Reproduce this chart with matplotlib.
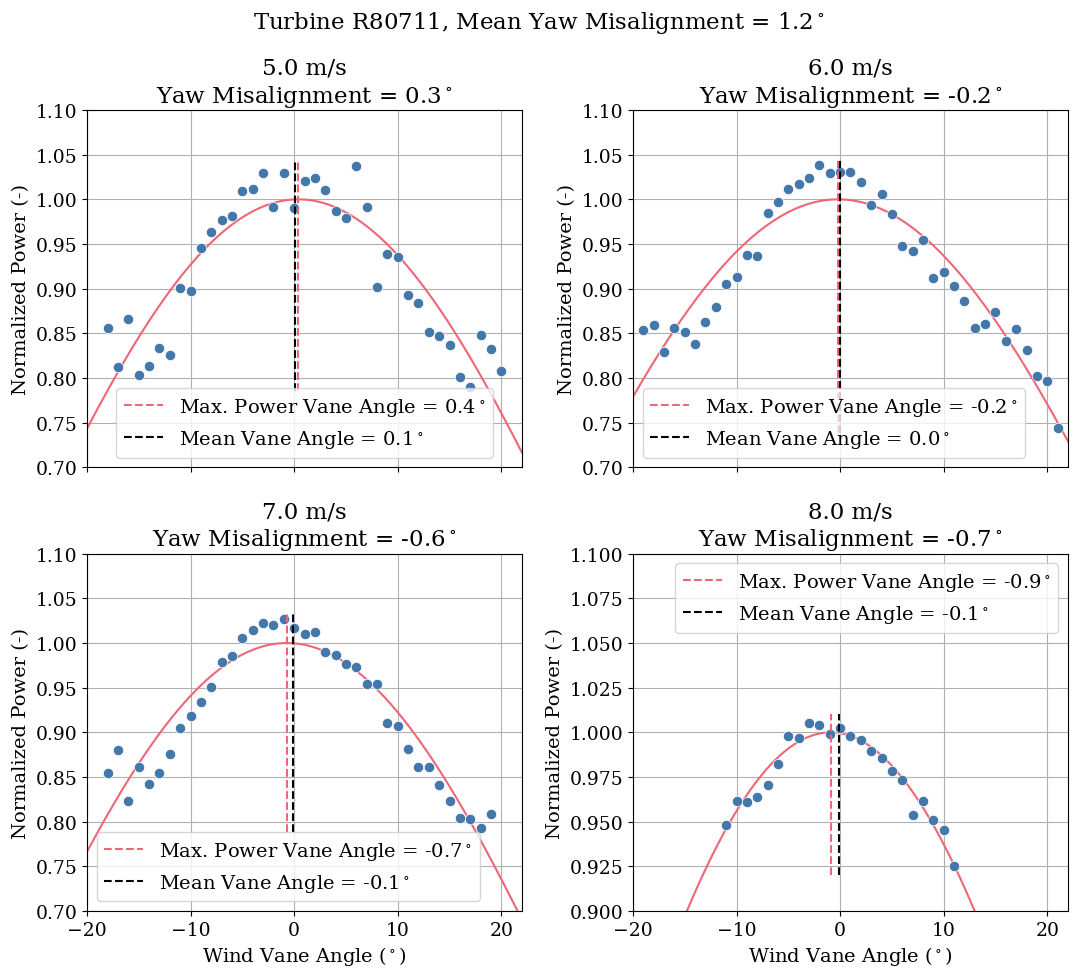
import numpy as np
import matplotlib
matplotlib.use("Agg")
import matplotlib.pyplot as plt

plt.rcParams["font.family"] = ["DejaVu Serif"]
plt.rcParams["mathtext.fontset"] = "dejavuserif"

BLUE = "#4477AA"
RED = "#EE6677"

# ── data ──────────────────────────────────────────────────────────────────────
turbine = "R80711"
mean_yaw = 1.2
speeds = [5.0, 6.0, 7.0, 8.0]
yaw_mis = [0.3, -0.2, -0.6, -0.7]
max_power_angle = [0.4, -0.2, -0.7, -0.9]
mean_vane_angle = [0.1, 0.0, -0.1, -0.1]
# cos^k exponent of the fitted curve in each panel
fit_exp = [4.58, 4.1, 4.6, 3.55]

vane_5 = list(range(-18, 21))
power_5 = [0.856, 0.812, 0.866, 0.803, 0.813, 0.834, 0.826, 0.901, 0.897, 0.945,
           0.963, 0.977, 0.981, 1.009, 1.012, 1.030, 0.991, 1.029, 0.990, 1.020,
           1.024, 1.011, 0.987, 0.979, 1.037, 0.991, 0.902, 0.939, 0.936, 0.893,
           0.884, 0.851, 0.847, 0.837, 0.801, 0.790, 0.848, 0.832, 0.808]

vane_6 = list(range(-19, 22))
power_6 = [0.854, 0.859, 0.829, 0.856, 0.851, 0.838, 0.863, 0.879, 0.905, 0.913,
           0.938, 0.937, 0.985, 0.997, 1.012, 1.017, 1.024, 1.038, 1.030, 1.031,
           1.031, 1.019, 0.994, 1.006, 0.984, 0.948, 0.942, 0.955, 0.912, 0.919,
           0.903, 0.886, 0.856, 0.861, 0.874, 0.842, 0.855, 0.831, 0.802, 0.797,
           0.744]

vane_7 = list(range(-18, 20))
power_7 = [0.855, 0.880, 0.823, 0.861, 0.842, 0.855, 0.876, 0.905, 0.918, 0.934,
           0.951, 0.979, 0.986, 1.006, 1.015, 1.022, 1.020, 1.027, 1.017, 1.010,
           1.012, 0.990, 0.987, 0.977, 0.973, 0.954, 0.954, 0.911, 0.907, 0.881,
           0.861, 0.861, 0.841, 0.823, 0.804, 0.803, 0.793, 0.809]

vane_8 = list(range(-11, 12))
power_8 = [0.948, 0.9615, 0.961, 0.9637, 0.9704, 0.9822, 0.998, 0.9967, 1.0053,
           1.004, 0.999, 1.0025, 0.998, 0.9958, 0.9895, 0.9855, 0.9783, 0.9732,
           0.9538, 0.9615, 0.951, 0.9452, 0.925]

vanes = [vane_5, vane_6, vane_7, vane_8]
powers = [power_5, power_6, power_7, power_8]
ylims = [(0.70, 1.10), (0.70, 1.10), (0.70, 1.10), (0.90, 1.10)]
legend_locs = ["lower center", "lower left", "lower left", "upper right"]

fig, axes = plt.subplots(2, 2, figsize=(10.78, 9.79), dpi=100, sharex=True)
fig.subplots_adjust(left=0.0807, right=0.9907, top=0.8866, bottom=0.0684,
                    wspace=0.255, hspace=0.2416)

xs = np.linspace(-20, 22, 300)
for i, ax in enumerate(axes.flat):
    v = np.array(vanes[i])
    p = np.array(powers[i])
    ax.grid(True, zorder=0)
    ax.set_axisbelow(True)
    ax.scatter(v, p, s=55, color=BLUE, edgecolors="white", linewidths=0.5, zorder=3)
    fit = np.cos(np.radians(xs - max_power_angle[i])) ** fit_exp[i]
    ax.plot(xs, fit, color=RED, lw=1.5, zorder=2)
    lo, hi = p.min() - 0.005, p.max() + 0.005
    ax.vlines(max_power_angle[i], lo, hi, colors=RED, linestyles="--", lw=1.5,
              zorder=4, label="Max. Power Vane Angle = %.1f$^\\circ$" % max_power_angle[i])
    ax.vlines(mean_vane_angle[i], lo, hi, colors="black", linestyles="--", lw=1.5,
              zorder=4, label="Mean Vane Angle = %.1f$^\\circ$" % mean_vane_angle[i])
    ax.set_xlim(-20, 22)
    ax.set_ylim(*ylims[i])
    ax.set_title("%.1f m/s\nYaw Misalignment = %.1f$^\\circ$" % (speeds[i], yaw_mis[i]),
                 fontsize=16.5)
    ax.set_ylabel("Normalized Power (-)", fontsize=14)
    ax.tick_params(labelsize=13.5)
    ax.legend(loc=legend_locs[i], fontsize=14)
    if i >= 2:
        ax.set_xlabel("Wind Vane Angle ($^\\circ$)", fontsize=14)

fig.suptitle("Turbine %s, Mean Yaw Misalignment = %.1f$^\\circ$" % (turbine, mean_yaw),
             fontsize=16.5, y=0.99)

fig.savefig("out.png", dpi=100)
